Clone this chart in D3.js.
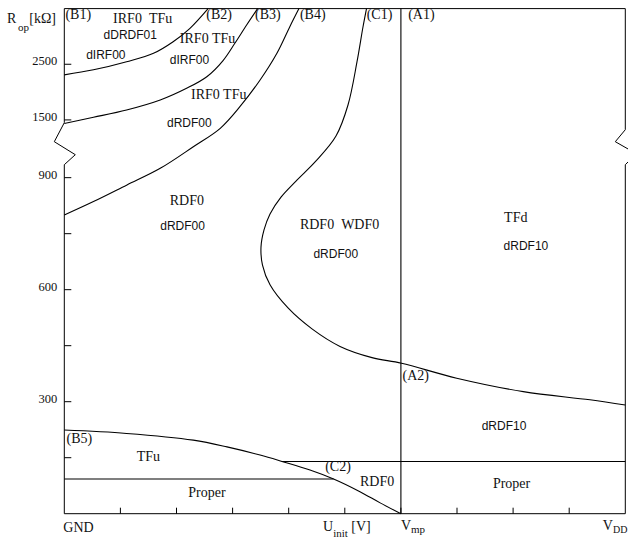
<!DOCTYPE html>
<html>
<head>
<meta charset="utf-8">
<script src="https://cdn.jsdelivr.net/npm/d3@7"></script>
<style>
  body { margin: 0; background: #fff; }
  svg { display: block; }
  .serif { font-family: "Liberation Serif", "DejaVu Serif", serif; fill: #111; }
  .sans { font-family: "Liberation Sans", Arial, sans-serif; fill: #111; }
</style>
</head>
<body>
<svg width="628" height="542"></svg>
<script>
// U_init in units of the x grid (GND = 0, Vmp = 6, VDD = 10), R_op in kOhm
var Vmp = 6, VDD = 10;
var xTicks = [1, 2, 3, 4, 5, 6, 7, 8, 9];
var yTicks = [150, 300, 450, 600, 750, 900, 1500, 2500];
var yTickLabels = [300, 600, 900, 1500, 2500];

var curveB2 = [[0,2310],[0.52,2400],[1.11,2546],[1.59,2697],[1.94,2905],[2.24,3146],[2.563,3500]];
var curveB3 = [[0,1440],[0.52,1547],[1.11,1678],[1.71,1858],[2.18,2068],[2.54,2276],[2.83,2567],[3.04,2877],[3.25,3205],[3.446,3500]];
var curveB4 = [[0,800],[0.52,836],[1.11,880],[1.71,925],[2.30,1119],[2.78,1373],[3.13,1737],[3.49,2217],[3.79,2697],[4.02,3175],[4.183,3500]];
var curveC1 = [[5.387,3500],[5.324,3169],[5.217,2541],[5.057,1768],[4.843,1267],[4.487,945],[4.130,891],[3.863,848],[3.667,803],[3.560,760],[3.506,714],[3.533,666],[3.667,613],[3.988,551],[4.415,495],[4.915,448],[5.485,418],[6.011,403],[6.995,363],[8.182,327],[9.370,305],[10,291]];
var curveB5 = [[0,224],[1.11,215],[2.30,197],[2.90,179],[3.49,157],[3.88,140],[4.38,117],[4.80,93],[5.27,59],[5.63,29],[6,0]];
var lineLow = [[0,93],[4.80,93]];
var lineHigh = [[3.88,140],[10,140]];
var lineVmp = [[Vmp,0],[Vmp,3500]];

var serifLabels = [
  ["(B1)",0.02,3320],["IRF0\u00a0\u00a0TFu",0.87,3241],["(B2)",2.53,3320],["(B3)",3.40,3320],
  ["(B4)",4.20,3320],["(C1)",5.39,3320],["(A1)",6.13,3320],["IRF0 TFu",2.06,2882],
  ["IRF0 TFu",2.26,1876],["RDF0",1.88,827],["RDF0\u00a0\u00a0WDF0",4.20,763],["TFd",7.84,782],
  ["(A2)",6.03,358],["(B5)",0.04,189],["TFu",1.29,140],["Proper",2.21,45],
  ["(C2)",4.65,114],["RDF0",5.27,74],["Proper",7.64,68]
];
var sansLabels = [
  ["dDRDF01",0.70,2945],["dIRF00",0.39,2603],["dIRF00",1.88,2496],["dRDF00",1.83,1384],
  ["dRDF00",1.71,760],["dRDF00",4.44,685],["dRDF10",7.83,706],["dRDF10",7.44,224]
];

var svg = d3.select("svg");
var x = d3.scaleLinear().domain([0, VDD]).range([64.3, 625.3]);
// broken axis: linear below 950, compressed above 1450
var y = d3.scaleLinear().domain([0, 950, 1450, 3500]).range([513.7, 159, 122.7, 8.6]);

var line = d3.line()
  .x(function(d){ return x(d[0]); })
  .y(function(d){ return y(d[1]); })
  .curve(d3.curveCatmullRom.alpha(0.5));
var straight = d3.line()
  .x(function(d){ return x(d[0]); })
  .y(function(d){ return y(d[1]); });

// frame
var x0 = x(0), x1 = x(VDD), yb = y(0), yt = y(3500), ybr = y(1450);
svg.append("line").attr("x1",x0).attr("x2",x1).attr("y1",yt).attr("y2",yt).attr("stroke","#000");
svg.append("line").attr("x1",x0).attr("x2",x1).attr("y1",yb).attr("y2",yb).attr("stroke","#000");
svg.append("path")
  .attr("d","M"+x0+","+yt+"V"+ybr+"L"+(x0-10)+","+(ybr+19)+"L"+(x0+11)+","+(ybr+32)+"L"+x0+","+(ybr+42)+"V"+yb)
  .attr("fill","none").attr("stroke","#000");
svg.append("path")
  .attr("d","M"+x1+","+yt+"V"+(ybr+7)+"L"+(x1-10)+","+(ybr+19)+"L"+(x1+11)+","+(ybr+31)+"L"+x1+","+(ybr+42)+"V"+yb)
  .attr("fill","none").attr("stroke","#000");

// ticks
svg.selectAll("line.xtick").data(xTicks).enter()
  .append("line").attr("class","xtick")
  .attr("x1",function(d){ return x(d); }).attr("x2",function(d){ return x(d); })
  .attr("y1",yb).attr("y2",yb-6).attr("stroke","#000");
svg.selectAll("line.ytick").data(yTicks).enter()
  .append("line").attr("class","ytick")
  .attr("x1",x0).attr("x2",x0+7)
  .attr("y1",function(d){ return y(d); }).attr("y2",function(d){ return y(d); })
  .attr("stroke","#000");
svg.selectAll("text.ylab").data(yTickLabels).enter()
  .append("text").attr("class","ylab serif")
  .attr("x",x0-7).attr("y",function(d){ return y(d)+1; })
  .attr("text-anchor","end").attr("font-size","12.5px")
  .text(function(d){ return d; });

// boundaries
[curveB2, curveB3, curveB4, curveC1, curveB5].forEach(function(c){
  svg.append("path").attr("d",line(c)).attr("fill","none").attr("stroke","#000").attr("stroke-width",1.1);
});
[lineLow, lineHigh, lineVmp].forEach(function(c){
  svg.append("path").attr("d",straight(c)).attr("fill","none").attr("stroke","#000").attr("stroke-width",1.1);
});

// region labels
svg.selectAll("text.sl").data(serifLabels).enter()
  .append("text").attr("class","sl serif").attr("font-size","14px")
  .attr("x",function(d){ return x(d[1]); }).attr("y",function(d){ return y(d[2]); })
  .text(function(d){ return d[0]; });
svg.selectAll("text.nl").data(sansLabels).enter()
  .append("text").attr("class","nl sans").attr("font-size","12px")
  .attr("x",function(d){ return x(d[1]); }).attr("y",function(d){ return y(d[2]); })
  .text(function(d){ return d[0]; });

// axis titles
var ax = svg.append("text").attr("class","serif").attr("font-size","14px").attr("x",7).attr("y",22.7);
ax.append("tspan").text("R");
ax.append("tspan").attr("x",18).attr("dy",8).attr("font-size","11px").text("op");
ax.append("tspan").attr("x",29.3).attr("dy",-8).text("[k\u03a9]");

svg.append("text").attr("class","serif").attr("font-size","14px")
  .attr("x",x(0)-1).attr("y",531.5).text("GND");
var vm = svg.append("text").attr("class","serif").attr("font-size","14px").attr("x",x(Vmp)).attr("y",530);
vm.append("tspan").text("V");
vm.append("tspan").attr("dy",3).attr("font-size","11px").text("mp");
var vd = svg.append("text").attr("class","serif").attr("font-size","14px").attr("x",x(VDD)-22.5).attr("y",530);
vd.append("tspan").text("V");
vd.append("tspan").attr("dy",3).attr("font-size","10px").text("DD");
var ut = svg.append("text").attr("class","serif").attr("font-size","14px").attr("x",323).attr("y",531);
ut.append("tspan").text("U");
ut.append("tspan").attr("dy",6).attr("font-size","11px").text("init");
ut.append("tspan").attr("dy",-6).text(" [V]");
</script>
</body>
</html>
